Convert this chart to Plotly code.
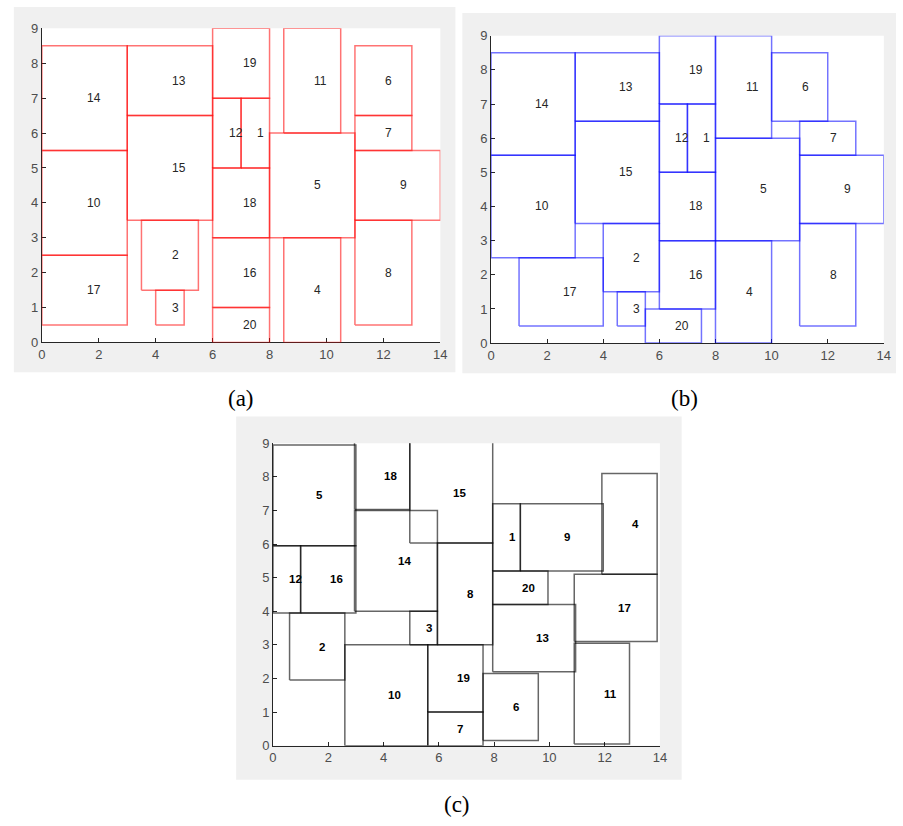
import plotly.graph_objects as go

W, H = 903, 826

# ---------------- data ----------------
ids = list(range(1, 21))

# panel (a): rectangle extents (x0, x1, y0, y1) for rectangles 1..20
a_x0 = [7, 3.5, 4, 8.5, 8, 11, 11, 11, 11, 0, 8.5, 6, 3, 0, 3, 6, 0, 6, 6, 6]
a_x1 = [8, 5.5, 5, 10.5, 11, 13, 13, 13, 14, 3, 10.5, 7, 6, 3, 6, 8, 3, 8, 8, 8]
a_y0 = [5, 1.5, 0.5, 0, 3, 6.5, 5.5, 0.5, 3.5, 2.5, 6, 5, 6.5, 5.5, 3.5, 1, 0.5, 3, 7, 0]
a_y1 = [7, 3.5, 1.5, 3, 6, 8.5, 6.5, 3.5, 5.5, 5.5, 9, 7, 8.5, 8.5, 6.5, 3, 2.5, 5, 9, 1]

# panel (b)
b_x0 = [7, 4, 4.5, 8, 8, 10, 11, 11, 11, 0, 8, 6, 3, 0, 3, 6, 1, 6, 6, 5.5]
b_x1 = [8, 6, 5.5, 10, 11, 12, 13, 13, 14, 3, 10, 7, 6, 3, 6, 8, 4, 8, 8, 7.5]
b_y0 = [5, 1.5, 0.5, 0, 3, 6.5, 5.5, 0.5, 3.5, 2.5, 6, 5, 6.5, 5.5, 3.5, 1, 0.5, 3, 7, 0]
b_y1 = [7, 3.5, 1.5, 3, 6, 8.5, 6.5, 3.5, 5.5, 5.5, 9, 7, 8.5, 8.5, 6.5, 3, 2.5, 5, 9, 1]

# panel (c)
c_x0 = [7.95, 0.6, 4.95, 11.9, 0, 7.6, 5.6, 5.95, 8.95, 2.6, 10.9, 0, 7.95, 2.95, 4.95, 1, 10.9, 2.95, 5.6, 7.95]
c_x1 = [8.95, 2.6, 5.95, 13.9, 3, 9.6, 7.6, 7.95, 11.95, 5.6, 12.9, 1, 10.95, 5.95, 7.95, 3, 13.9, 4.95, 7.6, 9.95]
c_y0 = [5.2, 1.95, 3.0, 5.1, 5.95, 0.15, 0, 3.0, 5.2, 0, 0.05, 3.95, 2.2, 4.0, 6.03, 3.95, 3.1, 7.03, 1, 4.2]
c_y1 = [7.2, 3.95, 4.0, 8.1, 8.95, 2.15, 1, 6.03, 7.2, 3, 3.05, 5.95, 4.2, 7.0, 9.03, 5.95, 5.1, 9.03, 3, 5.2]

x_ticks = [0, 2, 4, 6, 8, 10, 12, 14]
y_ticks = [0, 1, 2, 3, 4, 5, 6, 7, 8, 9]
captions = ["(a)", "(b)", "(c)"]

# ---------------- layout geometry (pixels) ----------------
panels = [
    dict(data=(a_x0, a_x1, a_y0, a_y1), color="rgba(255,0,0,0.55)",
         lab_font=dict(family="Liberation Sans, Arial", size=12, color="#262626"),
         plot=(38.3, 441.7, 21.7, 341.7), gray=(10, 457, 0, 372), cap=(240, 399)),
    dict(data=(b_x0, b_x1, b_y0, b_y1), color="rgba(0,0,255,0.55)",
         lab_font=dict(family="Liberation Sans, Arial", size=12, color="#262626"),
         plot=(493, 890.7, 29.3, 342.3), gray=(464, 903, 6, 373), cap=(689, 399)),
    dict(data=(c_x0, c_x1, c_y0, c_y1), color="rgba(0,0,0,0.6)",
         lab_font=dict(family="Liberation Sans, Arial", size=11.5, color="#000000", weight="bold"),
         plot=(272.3, 664, 444.3, 752.3), gray=(235, 686, 417, 787), cap=(459, 812)),
]

def fx(px):
    return px / W

def fy(py):
    return 1 - py / H

fig = go.Figure()
shapes = []
annotations = []
layout_axes = {}

for k, p in enumerate(panels):
    n = "" if k == 0 else str(k + 1)
    xa, ya = "x" + n, "y" + n
    x0s, x1s, y0s, y1s = p["data"]
    for i, x0, x1, y0, y1 in zip(ids, x0s, x1s, y0s, y1s):
        fig.add_trace(go.Scatter(
            x=[x0, x1, x1, x0, x0], y=[y0, y0, y1, y1, y0],
            mode="lines", line=dict(color=p["color"], width=1.5),
            xaxis=xa, yaxis=ya, showlegend=False, hoverinfo="skip",
            cliponaxis=False,
        ))
        annotations.append(dict(
            x=(x0 + x1) / 2, y=(y0 + y1) / 2, xref=xa, yref=ya,
            text=str(i), showarrow=False, xanchor="left", yanchor="middle",
            font=p["lab_font"],
        ))
    gx0, gx1, gy0, gy1 = p["gray"]
    shapes.append(dict(type="rect", xref="paper", yref="paper", layer="below",
                       x0=fx(gx0), x1=fx(gx1), y0=fy(gy1), y1=fy(gy0),
                       fillcolor="#f0f0f0", line=dict(width=0)))
    px0, px1, py0, py1 = p["plot"]
    shapes.append(dict(type="rect", xref="paper", yref="paper", layer="below",
                       x0=fx(px0), x1=fx(px1), y0=fy(py1), y1=fy(py0),
                       fillcolor="#ffffff", line=dict(width=0)))
    axis_common = dict(showgrid=False, zeroline=False, showline=True,
                       linecolor="#262626", linewidth=1, ticks="inside", ticklen=4,
                       tickcolor="#262626", mirror=False, layer="below traces",
                       tickfont=dict(family="Liberation Sans, Arial", size=13, color="#4d4d4d"))
    layout_axes["xaxis" + n] = dict(axis_common, domain=[fx(px0), fx(px1)], range=[0, 14],
                                    tickvals=x_ticks, anchor=ya, fixedrange=True)
    layout_axes["yaxis" + n] = dict(axis_common, domain=[fy(py1), fy(py0)], range=[0, 9],
                                    tickvals=y_ticks, anchor=xa, fixedrange=True)
    cx, cy = p["cap"]
    annotations.append(dict(x=fx(cx), y=fy(cy), xref="paper", yref="paper",
                            text=captions[k], showarrow=False, xanchor="center", yanchor="middle",
                            font=dict(family="Liberation Serif, Times New Roman", size=23, color="#000000")))

fig.update_layout(
    autosize=True,
    margin=dict(l=0, r=0, t=0, b=0, pad=0),
    paper_bgcolor="#ffffff", plot_bgcolor="rgba(0,0,0,0)",
    shapes=shapes, annotations=annotations,
    **layout_axes,
)

fig.write_html(
    "out.html",
    default_width="100vw", default_height="100vh",
    config={"displayModeBar": False, "responsive": True},
    post_script=("document.documentElement.style.margin='0';"
                 "document.body.style.margin='0';"
                 "document.body.style.overflow='hidden';"),
)
